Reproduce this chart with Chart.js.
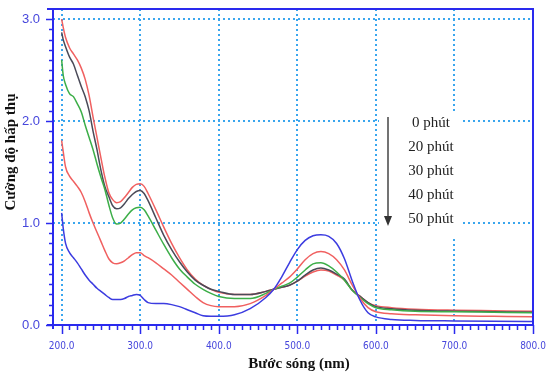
<!DOCTYPE html>
<html>
<head>
<meta charset="utf-8">
<script src="https://cdn.jsdelivr.net/npm/chart.js@4.4.0/dist/chart.umd.min.js"></script>
<style>
    html, body { margin: 0; padding: 0; background: #fff; }
    #wrap { width: 556px; height: 377px; position: relative; }
</style>
</head>
<body>
<div id="wrap"><canvas id="spectraChart"></canvas></div>
<script>
// Bước sóng (nm)
const wavelengths = [
    200, 202, 205, 210, 215, 220, 225, 230, 235, 240,
    245, 250, 255, 260, 265, 270, 275, 280, 285, 290,
    295, 300, 305, 310, 320, 330, 340, 350, 360, 370,
    380, 390, 400, 420, 440, 460, 470, 480, 490, 500,
    510, 520, 530, 540, 550, 560, 570, 580, 590, 600,
    620, 650, 700, 750, 800
];

// Cường độ hấp thụ theo thời gian
const abs0 = [
    1.10, 0.95, 0.80, 0.71, 0.66, 0.61, 0.55, 0.49, 0.44, 0.40,
    0.36, 0.33, 0.30, 0.27, 0.25, 0.25, 0.25, 0.26, 0.28, 0.29,
    0.30, 0.29, 0.25, 0.22, 0.21, 0.21, 0.20, 0.18, 0.15, 0.12,
    0.09, 0.085, 0.085, 0.10, 0.16, 0.27, 0.35, 0.47, 0.61, 0.74,
    0.83, 0.875, 0.885, 0.87, 0.80, 0.65, 0.43, 0.24, 0.12, 0.08,
    0.055, 0.045, 0.04, 0.037, 0.035
];
const abs20 = [
    1.81, 1.70, 1.55, 1.46, 1.41, 1.36, 1.30, 1.21, 1.10, 1.00,
    0.91, 0.82, 0.73, 0.65, 0.61, 0.60, 0.61, 0.63, 0.66, 0.69,
    0.71, 0.71, 0.68, 0.66, 0.61, 0.55, 0.49, 0.42, 0.35, 0.28,
    0.22, 0.19, 0.18, 0.18, 0.21, 0.29, 0.35, 0.41, 0.47, 0.55,
    0.64, 0.70, 0.72, 0.70, 0.64, 0.54, 0.39, 0.26, 0.17, 0.13,
    0.11, 0.10, 0.09, 0.085, 0.08
];
const abs30 = [
    2.60, 2.45, 2.36, 2.27, 2.24, 2.17, 2.09, 1.96, 1.84, 1.72,
    1.58, 1.45, 1.33, 1.18, 1.05, 0.99, 1.00, 1.04, 1.09, 1.13,
    1.15, 1.155, 1.13, 1.07, 0.93, 0.79, 0.66, 0.55, 0.47, 0.40,
    0.35, 0.31, 0.28, 0.26, 0.26, 0.31, 0.35, 0.38, 0.41, 0.47,
    0.54, 0.60, 0.61, 0.58, 0.52, 0.44, 0.34, 0.27, 0.21, 0.17,
    0.15, 0.135, 0.13, 0.125, 0.12
];
const abs40 = [
    2.87, 2.80, 2.73, 2.63, 2.56, 2.45, 2.34, 2.24, 2.10, 1.90,
    1.72, 1.52, 1.36, 1.26, 1.17, 1.14, 1.15, 1.19, 1.24, 1.28,
    1.31, 1.32, 1.29, 1.22, 1.05, 0.88, 0.74, 0.62, 0.52, 0.44,
    0.39, 0.35, 0.33, 0.30, 0.30, 0.33, 0.35, 0.37, 0.39, 0.43,
    0.49, 0.54, 0.56, 0.54, 0.50, 0.45, 0.34, 0.28, 0.22, 0.18,
    0.16, 0.145, 0.135, 0.13, 0.125
];
const abs50 = [
    3.00, 2.92, 2.82, 2.72, 2.66, 2.60, 2.52, 2.41, 2.25, 2.04,
    1.84, 1.64, 1.45, 1.30, 1.23, 1.20, 1.21, 1.25, 1.30, 1.35,
    1.38, 1.385, 1.36, 1.29, 1.13, 0.96, 0.80, 0.66, 0.54, 0.45,
    0.39, 0.35, 0.32, 0.30, 0.30, 0.33, 0.35, 0.37, 0.39, 0.43,
    0.48, 0.52, 0.54, 0.53, 0.49, 0.44, 0.34, 0.28, 0.22, 0.19,
    0.17, 0.155, 0.145, 0.14, 0.135
];

const seriesLabels = ['0 phút', '20 phút', '30 phút', '40 phút', '50 phút'];
const seriesValues = [abs0, abs20, abs30, abs40, abs50];
const seriesColors = ['#3c3ce0', '#f06060', '#3cae48', '#4a4a58', '#f06060'];

const xTicks = [200, 300, 400, 500, 600, 700, 800];
const yTicks = [0, 1, 2, 3];

// Colores
const axisBlue = '#2a2aee';
const labelBlue = '#4646dc';
const gridBlue = '#3aa6ee';

// Marcos, ticks menores, títulos y anotación
const extrasPlugin = {
    id: 'extras',
    beforeDatasetsDraw(chart) {
        const ctx = chart.ctx;
        ctx.save();
        // caja blanca de la leyenda
        ctx.fillStyle = '#fff';
        ctx.fillRect(379, 114, 84, 122);
        ctx.restore();
    },
    afterDraw(chart) {
        const ctx = chart.ctx;
        const a = chart.chartArea;
        const xs = chart.scales.x;
        const ys = chart.scales.y;
        ctx.save();
        ctx.setLineDash([]);
        ctx.strokeStyle = axisBlue;
        ctx.lineWidth = 2;
        // marco completo
        ctx.beginPath();
        ctx.moveTo(a.left - 6, a.top);
        ctx.lineTo(a.right, a.top);
        ctx.lineTo(a.right, a.bottom);
        ctx.lineTo(a.left - 6, a.bottom);
        ctx.moveTo(a.left, a.top);
        ctx.lineTo(a.left, a.bottom + 4);
        ctx.stroke();

        // ticks eje x (cada 10 nm)
        ctx.lineWidth = 1.5;
        ctx.beginPath();
        for (let v = 200; v <= 800; v += 10) {
            const px = Math.round(xs.getPixelForValue(v)) + 0.5;
            const len = v % 100 === 0 ? 9 : 5;
            ctx.moveTo(px, a.bottom);
            ctx.lineTo(px, a.bottom + len);
        }
        // ticks eje y (cada 0.1)
        for (let i = 0; i <= 30; i++) {
            const py = Math.round(ys.getPixelForValue(i / 10)) + 0.5;
            const len = i % 10 === 0 ? 7 : 4;
            ctx.moveTo(a.left, py);
            ctx.lineTo(a.left - len, py);
        }
        ctx.stroke();

        // títulos de ejes
        ctx.fillStyle = '#111';
        ctx.font = 'bold 15px "Liberation Serif", "Times New Roman", serif';
        ctx.textAlign = 'center';
        ctx.textBaseline = 'middle';
        ctx.fillText('Bước sóng (nm)', 299, 364);
        ctx.save();
        ctx.translate(11, 152);
        ctx.rotate(-Math.PI / 2);
        ctx.fillText('Cường độ hấp thụ', 0, 0);
        ctx.restore();

        // anotación: flecha y tiempos
        ctx.font = '15px "Liberation Serif", "Times New Roman", serif';
        ctx.fillStyle = '#222';
        seriesLabels.forEach((lbl, i) => {
            ctx.fillText(lbl, 431, 123 + i * 24);
        });
        ctx.strokeStyle = '#444';
        ctx.lineWidth = 1.5;
        ctx.beginPath();
        ctx.moveTo(388, 117);
        ctx.lineTo(388, 217);
        ctx.stroke();
        ctx.fillStyle = '#333';
        ctx.beginPath();
        ctx.moveTo(384, 216);
        ctx.lineTo(392, 216);
        ctx.lineTo(388, 226);
        ctx.closePath();
        ctx.fill();
        ctx.restore();
    }
};

const chartCtx = document.getElementById('spectraChart');
new Chart(chartCtx, {
    type: 'line',
    data: {
        datasets: seriesValues.map((vals, i) => ({
            label: seriesLabels[i],
            data: wavelengths.map((w, j) => ({ x: w, y: vals[j] })),
            borderColor: seriesColors[i],
            borderWidth: 1.5,
            pointRadius: 0,
            fill: false,
            cubicInterpolationMode: 'monotone'
        }))
    },
    options: {
        responsive: true,
        maintainAspectRatio: false,
        animation: false,
        devicePixelRatio: 1,
        layout: {
            padding: { top: 9, right: 23, left: 0, bottom: 0 }
        },
        plugins: {
            legend: { display: false },
            tooltip: { enabled: false }
        },
        scales: {
            x: {
                type: 'linear',
                min: 189,
                max: 800,
                afterBuildTicks: (scale) => {
                    scale.ticks = xTicks.map(v => ({ value: v }));
                },
                afterFit: (scale) => { scale.height = 52; },
                border: { display: false, dash: [2, 3] },
                grid: {
                    drawTicks: true,
                    tickLength: 15,
                    tickColor: 'rgba(0,0,0,0)',
                    color: (c) => (c.tick && c.tick.value === 800) ? 'rgba(0,0,0,0)' : gridBlue,
                    lineWidth: 2
                },
                ticks: {
                    color: labelBlue,
                    padding: 0,
                    maxRotation: 0,
                    font: { family: '"Liberation Sans Narrow", "DejaVu Sans Condensed", Arial, sans-serif', size: 10 },
                    callback: (v) => Number(v).toFixed(1)
                }
            },
            y: {
                min: 0,
                max: 3.1,
                afterBuildTicks: (scale) => {
                    scale.ticks = yTicks.map(v => ({ value: v }));
                },
                afterFit: (scale) => { scale.width = 53; },
                border: { display: false, dash: [2, 3] },
                grid: {
                    drawTicks: true,
                    tickLength: 13,
                    tickColor: 'rgba(0,0,0,0)',
                    color: (c) => (c.tick && c.tick.value === 0) ? 'rgba(0,0,0,0)' : gridBlue,
                    lineWidth: 2
                },
                ticks: {
                    color: labelBlue,
                    padding: 0,
                    font: { family: '"Liberation Sans", Arial, sans-serif', size: 13 },
                    callback: (v) => Number(v).toFixed(1)
                }
            }
        }
    },
    plugins: [extrasPlugin]
});
</script>
</body>
</html>
